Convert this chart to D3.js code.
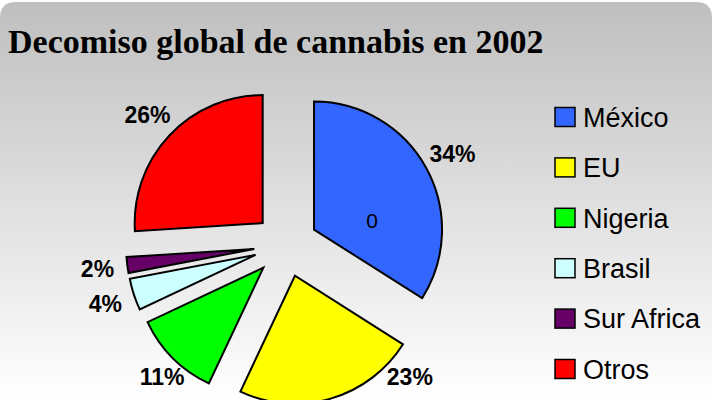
<!DOCTYPE html>
<html>
<head>
<meta charset="utf-8">
<script src="https://cdn.jsdelivr.net/npm/d3@7"></script>
<style>
	html, body { margin: 0; padding: 0; background: #fff; }
	svg { display: block; }
</style>
</head>
<body>
<svg id="chart" width="712" height="400"></svg>
<script>
// data
var categories = ["México", "EU", "Nigeria", "Brasil", "Sur Africa", "Otros"];
var shares = [34, 23, 11, 4, 2, 26];
var colors = ["#3366ff", "#ffff00", "#00ff00", "#ccffff", "#660066", "#ff0000"];
var title = "Decomiso global de cannabis en 2002";

var width = 712, height = 400;
var svg = d3.select("#chart");

// background: grey to white gradient, rounded top corners
var defs = svg.append("defs");
var grad = defs.append("linearGradient")
	.attr("id", "bg")
	.attr("x1", 0).attr("y1", 0).attr("x2", 0).attr("y2", 1);
grad.append("stop").attr("offset", "0%").attr("stop-color", "#bfbfbf");
grad.append("stop").attr("offset", "100%").attr("stop-color", "#ffffff");

var corner = 16, bgTop = 2;
svg.append("path")
	.attr("d", "M0," + (bgTop + corner)
		+ " Q0," + bgTop + " " + corner + "," + bgTop
		+ " L" + (width - corner) + "," + bgTop
		+ " Q" + width + "," + bgTop + " " + width + "," + (bgTop + corner)
		+ " L" + width + "," + height + " L0," + height + " Z")
	.attr("fill", "url(#bg)");

// title
svg.append("text")
	.attr("x", 8)
	.attr("y", 53)
	.attr("font-family", "'Liberation Serif', serif")
	.attr("font-weight", "bold")
	.attr("font-size", 34)
	.attr("fill", "#000")
	.text(title);

// pie
var cx = 286, cy = 245;
var radius = 128;
var explode = 32;

var pie = d3.pie().sort(null).value(function(d) { return d; });
var arcs = pie(shares);
var arc = d3.arc().innerRadius(0).outerRadius(radius);

var midAngle = function(d) { return (d.startAngle + d.endAngle) / 2; };
var polar = function(a, r) { return [Math.sin(a) * r, -Math.cos(a) * r]; };

var g = svg.append("g").attr("transform", "translate(" + cx + "," + cy + ")");

g.selectAll("path.slice")
	.data(arcs)
	.enter().append("path")
	.attr("class", "slice")
	.attr("d", arc)
	.attr("fill", function(d, i) { return colors[i]; })
	.attr("stroke", "#000")
	.attr("stroke-width", 2)
	.attr("stroke-linejoin", "miter")
	.attr("transform", function(d) {
		var p = polar(midAngle(d), explode);
		return "translate(" + p[0] + "," + p[1] + ")";
	});

// percentage labels outside the slices, kept above the bottom edge
var labelR = 190, maxY = 132;
g.selectAll("text.pct")
	.data(arcs)
	.enter().append("text")
	.attr("class", "pct")
	.attr("transform", function(d) {
		var p = polar(midAngle(d), labelR);
		if (p[1] > maxY) {
			var r = labelR - 9;
			p[1] = maxY;
			p[0] = (p[0] < 0 ? -1 : 1) * Math.sqrt(r * r - maxY * maxY);
		}
		return "translate(" + p + ")";
	})
	.attr("text-anchor", "middle")
	.attr("dy", "0.36em")
	.attr("font-family", "'Liberation Sans', Arial, sans-serif")
	.attr("font-weight", "bold")
	.attr("font-size", 23)
	.text(function(d) { return d.data + "%"; });

// stray "0" sitting inside the first slice
var first = arcs[0];
var off = polar(midAngle(first), explode);
var inner = polar(first.startAngle + 1.41, radius * 0.46);
g.append("text")
	.attr("x", off[0] + inner[0])
	.attr("y", off[1] + inner[1])
	.attr("dy", "0.36em")
	.attr("text-anchor", "middle")
	.attr("font-family", "'Liberation Sans', Arial, sans-serif")
	.attr("font-size", 21)
	.text("0");

// legend
var legendY = d3.scalePoint().domain(categories).range([117, 369]);
var legend = svg.append("g").selectAll("g")
	.data(categories)
	.enter().append("g")
	.attr("transform", function(d) { return "translate(555," + legendY(d) + ")"; });

legend.append("rect")
	.attr("x", 0).attr("y", -9.5)
	.attr("width", 20).attr("height", 19)
	.attr("fill", function(d, i) { return colors[i]; })
	.attr("stroke", "#000")
	.attr("stroke-width", 1.5);

legend.append("text")
	.attr("x", 28)
	.attr("dy", "0.36em")
	.attr("font-family", "'Liberation Sans', Arial, sans-serif")
	.attr("font-size", 27)
	.text(function(d) { return d; });
</script>
</body>
</html>
